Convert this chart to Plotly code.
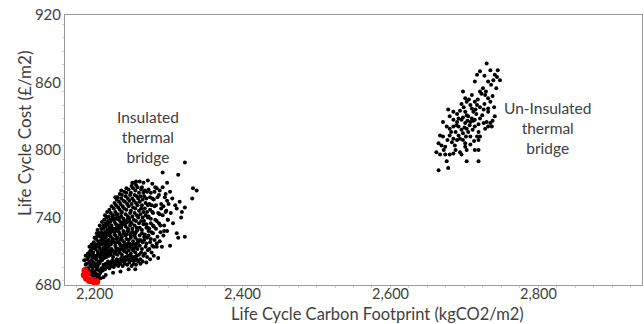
import plotly.graph_objects as go

# Insulated thermal bridge (black cloud, lower left)
ins_x = [
    2187, 2188, 2186, 2188,
    2190, 2191, 2189, 2190, 2191,
    2193, 2192, 2194, 2193, 2192, 2194, 2193,
    2196, 2197, 2195, 2196, 2197, 2195, 2196,
    2199, 2200, 2198, 2199, 2201, 2198, 2200, 2199, 2200,
    2202, 2203, 2201, 2202, 2204, 2201, 2203, 2202, 2203,
    2205, 2206, 2204, 2205, 2207, 2204, 2206, 2205, 2206, 2204,
    2208, 2209, 2207, 2208, 2210, 2207, 2209, 2208, 2209, 2207,
    2211, 2212, 2210, 2211, 2213, 2210, 2212, 2211, 2212, 2210,
    2214, 2215, 2213, 2214, 2216, 2213, 2215, 2214, 2215, 2213, 2214,
    2217, 2218, 2216, 2217, 2219, 2216, 2218, 2217, 2218, 2216, 2217,
    2220, 2221, 2219, 2220, 2222, 2219, 2221, 2220, 2221, 2219, 2220,
    2223, 2224, 2222, 2223, 2225, 2222, 2224, 2223, 2224, 2222, 2223,
    2226, 2227, 2225, 2226, 2228, 2225, 2227, 2226, 2227, 2225, 2226, 2227,
    2229, 2230, 2228, 2229, 2231, 2228, 2230, 2229, 2230, 2228, 2229, 2230,
    2232, 2233, 2231, 2232, 2234, 2231, 2233, 2232, 2233, 2231, 2232, 2233, 2231,
    2235, 2236, 2234, 2235, 2237, 2234, 2236, 2235, 2236, 2234, 2235, 2236, 2234,
    2238, 2239, 2237, 2238, 2240, 2237, 2239, 2238, 2239, 2237, 2238, 2239, 2237,
    2241, 2242, 2240, 2241, 2243, 2240, 2242, 2241, 2242, 2240, 2241, 2242, 2240,
    2244, 2245, 2243, 2244, 2246, 2243, 2245, 2244, 2245, 2243, 2244, 2245, 2243,
    2247, 2248, 2246, 2247, 2249, 2246, 2248, 2247, 2248, 2246, 2247, 2248, 2246,
    2250, 2251, 2249, 2250, 2252, 2249, 2251, 2250, 2251, 2249, 2250, 2251, 2249, 2250,
    2253, 2254, 2252, 2253, 2255, 2252, 2254, 2253, 2254, 2252, 2253, 2254, 2252, 2253,
    2256, 2257, 2255, 2256, 2258, 2255, 2257, 2256, 2257, 2255, 2256, 2257, 2255, 2256,
    2259, 2260, 2258, 2259, 2261, 2258, 2260, 2259, 2260, 2258, 2259, 2260, 2258,
    2262, 2263, 2261, 2262, 2264, 2261, 2263, 2262, 2263, 2261, 2262, 2263,
    2265, 2266, 2264, 2265, 2267, 2264, 2266, 2265, 2266, 2264, 2265, 2266, 2264,
    2268, 2269, 2267, 2268, 2270, 2267, 2269, 2268, 2269, 2267, 2268,
    2271, 2272, 2270, 2271, 2273, 2270, 2272, 2271, 2272, 2270, 2271,
    2274, 2275, 2273, 2274, 2276, 2273, 2275, 2274, 2275, 2273,
    2277, 2278, 2276, 2277, 2279, 2276, 2278, 2277, 2278, 2276,
    2280, 2281, 2279, 2280, 2282, 2279, 2281, 2280, 2281,
    2284, 2285, 2283, 2284, 2286, 2283, 2285, 2284,
    2288, 2289, 2287, 2288, 2290, 2287,
    2293, 2294, 2292, 2293, 2295, 2292,
    2298, 2299, 2297, 2298,
    2251, 2256, 2261, 2272, 2282, 2288, 2292, 2298, 2302, 2313,
    2322, 2333, 2338, 2332, 2322, 2309, 2305, 2315, 2311, 2318,
    2299, 2306, 2311, 2313, 2322, 2291, 2302, 2286, 2284, 2272,
    2296, 2294, 2303, 2278, 2266, 2243, 2236, 2228, 2300, 2290,
    2270, 2262, 2255, 2246, 2235, 2225, 2215, 2208, 2202, 2198,
    2212, 2280, 2275, 2289, 2317, 2296,
]
ins_y = [
    694, 698, 702, 706,
    691, 695, 699, 703, 708,
    690, 694, 697, 701, 705, 710, 714,
    689, 693, 698, 702, 706, 711, 716,
    688, 692, 696, 700, 704, 709, 713, 718, 722,
    690, 694, 699, 703, 707, 712, 716, 721, 726,
    687, 693, 697, 701, 706, 710, 715, 719, 724, 729,
    691, 695, 700, 704, 709, 713, 718, 723, 727, 733,
    693, 698, 702, 707, 711, 716, 720, 725, 730, 736,
    694, 699, 704, 708, 713, 717, 722, 727, 732, 738, 742,
    696, 701, 705, 710, 714, 719, 724, 729, 734, 740, 745,
    695, 700, 706, 711, 716, 720, 726, 731, 736, 741, 747,
    697, 702, 707, 712, 718, 723, 728, 733, 738, 744, 750,
    696, 701, 705, 710, 715, 721, 725, 730, 736, 742, 748, 753,
    698, 703, 708, 713, 718, 724, 729, 734, 739, 745, 751, 756,
    697, 702, 707, 712, 717, 722, 727, 733, 738, 743, 749, 754, 758,
    699, 704, 709, 715, 720, 725, 731, 736, 741, 747, 752, 757, 761,
    697, 701, 707, 712, 718, 723, 728, 734, 739, 745, 750, 755, 760,
    699, 705, 710, 716, 721, 727, 732, 737, 743, 748, 754, 759, 763,
    698, 703, 709, 714, 720, 725, 730, 736, 741, 747, 752, 757, 762,
    700, 706, 711, 717, 722, 728, 733, 739, 744, 750, 755, 760, 765,
    697, 702, 708, 713, 719, 724, 730, 735, 741, 746, 752, 757, 762, 768,
    699, 705, 711, 716, 722, 727, 733, 738, 744, 749, 755, 760, 766, 771,
    698, 703, 709, 714, 720, 726, 731, 737, 742, 748, 753, 759, 764, 769,
    701, 707, 712, 718, 724, 729, 735, 740, 746, 751, 757, 762, 767,
    703, 709, 715, 720, 726, 731, 737, 743, 748, 754, 759, 765,
    701, 706, 712, 718, 723, 729, 734, 740, 745, 751, 756, 762, 767,
    708, 714, 720, 725, 731, 737, 742, 748, 753, 759, 764,
    705, 711, 717, 722, 728, 734, 740, 745, 751, 757, 763,
    712, 718, 724, 730, 735, 741, 747, 752, 758, 765,
    709, 715, 721, 727, 733, 739, 745, 751, 757, 762,
    714, 720, 726, 732, 738, 744, 750, 756, 763,
    717, 723, 730, 737, 744, 751, 758, 766,
    719, 727, 735, 743, 752, 760,
    724, 733, 742, 750, 758, 767,
    728, 738, 746, 755,
    771, 772, 772, 773, 767, 764, 780, 771, 763, 778,
    789, 766, 764, 757, 749, 751, 757, 754, 748, 745,
    738, 735, 726, 722, 723, 714, 715, 704, 714, 731,
    745, 728, 744, 770, 771, 766, 764, 758, 752, 748,
    700, 699, 694, 694, 692, 691, 689, 686, 685, 684,
    687, 706, 703, 733, 740, 761,
]

# Extra designs filling the dense lower-left core of the insulated cloud
core_x = [
    2194, 2194, 2194,
    2197, 2197, 2197, 2197,
    2200, 2200, 2200, 2200,
    2203, 2203, 2203, 2203, 2203,
    2206, 2206, 2206, 2206, 2206,
    2209, 2209, 2209, 2209, 2209,
    2212, 2212, 2212, 2212, 2212,
    2215, 2215, 2215, 2215, 2215,
    2218, 2218, 2218, 2218, 2218,
    2221, 2221, 2221, 2221, 2221,
    2224, 2224, 2224, 2224, 2224,
    2227, 2227, 2227, 2227, 2227,
    2230, 2230, 2230, 2230, 2230,
    2233, 2233, 2233, 2233, 2233,
    2236, 2236, 2236, 2236, 2236,
    2239, 2239, 2239, 2239,
    2242, 2242, 2242, 2242,
    2245, 2245, 2245, 2245,
    2248, 2248, 2248, 2248,
    2251, 2251, 2251,
    2254, 2254, 2254,
    2257, 2257, 2257,
]
core_y = [
    692, 699, 707,
    691, 696, 704, 713,
    690, 698, 706, 715,
    688, 696, 705, 714, 723,
    689, 699, 708, 717, 726,
    693, 702, 711, 720, 730,
    696, 704, 713, 722, 733,
    697, 706, 715, 724, 735,
    698, 708, 717, 726, 737,
    698, 709, 718, 728, 738,
    700, 710, 720, 730, 741,
    699, 708, 718, 727, 739,
    701, 711, 721, 731, 742,
    700, 710, 720, 730, 740,
    702, 712, 722, 733, 744,
    704, 715, 726, 736,
    702, 713, 724, 735,
    706, 717, 728, 739,
    703, 714, 725, 736,
    705, 716, 727,
    702, 713, 724,
    706, 717, 728,
]

# Un-insulated thermal bridge (black cloud, upper right)
unins_x = [
    2730, 2721, 2717, 2741, 2744, 2748, 2714, 2732, 2736, 2698,
    2721, 2723, 2728, 2710, 2701, 2703, 2732, 2735, 2714, 2717,
    2708, 2710, 2712, 2721, 2726, 2732, 2732, 2678, 2685, 2690,
    2701, 2703, 2741, 2680, 2685, 2690, 2692, 2696, 2701, 2708,
    2710, 2714, 2721, 2726, 2730, 2735, 2737, 2671, 2676, 2680,
    2685, 2692, 2696, 2698, 2703, 2705, 2708, 2714, 2719, 2721,
    2728, 2732, 2667, 2671, 2680, 2685, 2690, 2694, 2698, 2701,
    2717, 2719, 2665, 2669, 2674, 2683, 2687, 2701, 2703, 2714,
    2719, 2662, 2667, 2674, 2680, 2685, 2694, 2696, 2676, 2678,
    2665, 2703, 2719,
    2705, 2699, 2712, 2716, 2694, 2707, 2688, 2711, 2724, 2718,
    2727, 2702, 2692, 2715, 2704, 2698, 2689, 2725, 2729, 2739,
    2745, 2735, 2727, 2743, 2738, 2706, 2696, 2682, 2677, 2672,
    2688, 2708, 2713, 2700, 2719, 2740, 2738,
]
unins_y = [
    877, 870, 867, 867, 865, 862, 861, 861, 858, 852,
    852, 850, 849, 849, 846, 843, 846, 843, 843, 840,
    840, 837, 834, 838, 836, 837, 834, 836, 834, 832,
    834, 831, 830, 830, 827, 825, 828, 827, 824, 825,
    828, 827, 828, 824, 825, 824, 821, 825, 821, 819,
    821, 821, 818, 815, 819, 816, 812, 821, 816, 812,
    819, 821, 813, 812, 813, 810, 809, 810, 809, 806,
    812, 809, 806, 804, 803, 807, 804, 803, 800, 800,
    800, 798, 796, 796, 796, 797, 798, 796, 790, 784,
    782, 790, 790,
    830, 838, 826, 832, 835, 822, 816, 818, 831, 845,
    841, 812, 813, 836, 826, 829, 822, 855, 852, 862,
    871, 871, 866, 855, 848, 845, 841, 816, 809, 800,
    800, 805, 808, 820, 823, 838, 826,
]

# Optimal designs (red, lowest cost and carbon)
opt_x = [2187, 2186, 2189, 2193, 2199, 2203, 2190, 2196]
opt_y = [693, 689, 686, 684, 683, 683, 690, 684]

x_ticks = [2200, 2400, 2600, 2800]
x_tick_text = ["2,200", "2,400", "2,600", "2,800"]
y_ticks = [680, 740, 800, 860, 920]

FONT = "Lato, Open Sans, sans-serif"
TXT = "#404040"

fig = go.Figure()
fig.add_trace(go.Scatter(x=ins_x + core_x, y=ins_y + core_y, mode="markers",
                         marker=dict(color="black", size=4), showlegend=False))
fig.add_trace(go.Scatter(x=unins_x, y=unins_y, mode="markers",
                         marker=dict(color="black", size=4), showlegend=False))
fig.add_trace(go.Scatter(x=opt_x, y=opt_y, mode="markers",
                         marker=dict(color="#ff0000", size=7), showlegend=False))

fig.add_annotation(x=2272, y=812, text="Insulated<br>thermal<br>bridge", showarrow=False,
                   font=dict(family=FONT, size=15.5, color=TXT), align="center")
fig.add_annotation(x=2812, y=820, text="Un-Insulated<br>thermal<br>bridge", showarrow=False,
                   font=dict(family=FONT, size=15.5, color=TXT), align="center")

fig.add_annotation(xref="paper", yref="paper", x=(377 - 65) / 577, y=-29 / 270,
                   text="Life Cycle Carbon Footprint (kgCO2/m2)", showarrow=False,
                   font=dict(family=FONT, size=16.5, color=TXT), xanchor="center", yanchor="middle")
fig.add_annotation(xref="paper", yref="paper", x=-41 / 577, y=(285 - 133) / 270,
                   text="Life Cycle Cost (£/m2)", showarrow=False, textangle=-90,
                   font=dict(family=FONT, size=17, color=TXT), xanchor="center", yanchor="middle")

axis_common = dict(showgrid=False, zeroline=False, showline=True, linecolor="#9a9a9a",
                   linewidth=1, mirror=True, ticks="")
fig.update_xaxes(range=[2160, 2940], tickvals=x_ticks, ticktext=x_tick_text,
                 ticklabelstandoff=-4, tickfont=dict(family=FONT, size=14.5, color=TXT),
                 minor=dict(dtick=25, ticks="outside", ticklen=2, tickcolor="#d0d0d0"),
                 **axis_common)
fig.update_yaxes(range=[680, 920], tickvals=y_ticks, tickfont=dict(family=FONT, size=15, color=TXT),
                 minor=dict(dtick=12, ticks="outside", ticklen=2, tickcolor="#d0d0d0"),
                 **axis_common)

fig.update_layout(width=644, height=324, margin=dict(l=65, r=2, t=15, b=39),
                  plot_bgcolor="white", paper_bgcolor="white",
                  font=dict(family=FONT, color=TXT))

fig.write_html("out.html", post_script="document.body.style.margin='0';",
               config={"displayModeBar": False})
